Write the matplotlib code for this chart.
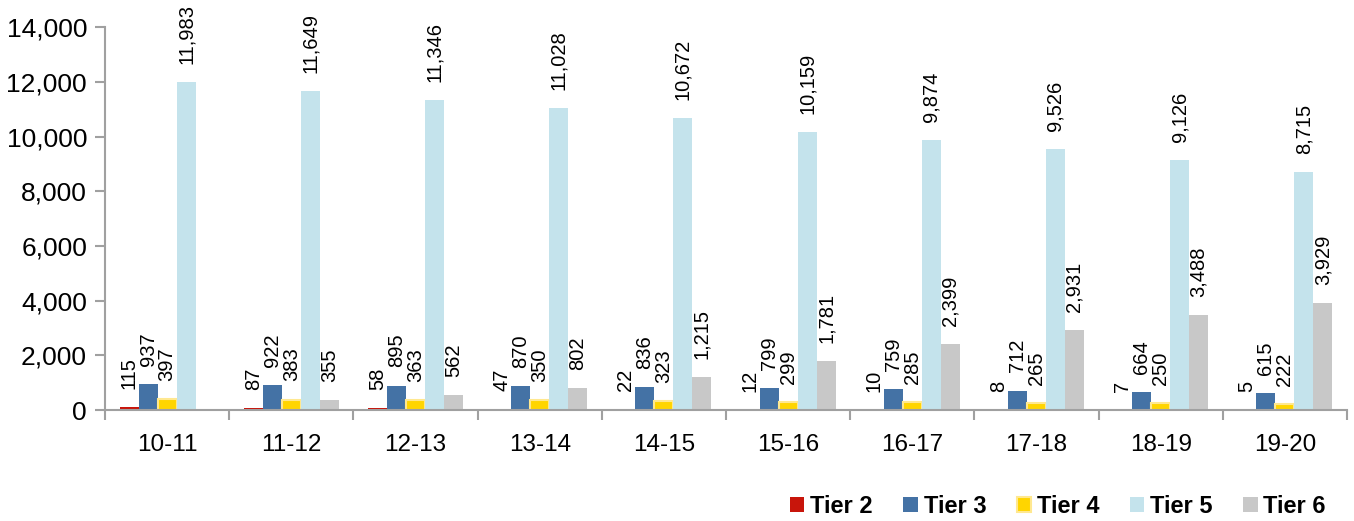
import numpy as np
import matplotlib.pyplot as plt
from matplotlib.ticker import FuncFormatter, FixedLocator

plt.rcParams['font.family'] = ['Liberation Sans', 'DejaVu Sans']

years = ['10-11', '11-12', '12-13', '13-14', '14-15',
         '15-16', '16-17', '17-18', '18-19', '19-20']
tier2 = [115, 87, 58, 47, 22, 12, 10, 8, 7, 5]
tier3 = [937, 922, 895, 870, 836, 799, 759, 712, 664, 615]
tier4 = [397, 383, 363, 350, 323, 299, 285, 265, 250, 222]
tier5 = [11983, 11649, 11346, 11028, 10672, 10159, 9874, 9526, 9126, 8715]
tier6 = [np.nan, 355, 562, 802, 1215, 1781, 2399, 2931, 3488, 3929]

series = [('Tier 2', tier2, '#C8150B', '#C8150B'),
          ('Tier 3', tier3, '#4472A5', '#4472A5'),
          ('Tier 4', tier4, '#FFD500', '#FFE890'),
          ('Tier 5', tier5, '#C4E3EC', '#C4E3EC'),
          ('Tier 6', tier6, '#C8C8C8', '#C8C8C8')]

fig = plt.figure(figsize=(13.54, 5.21), dpi=100)
ax = fig.add_axes([0.0776, 0.213, 0.9172, 0.735])

x = np.arange(len(years))
w = 0.153
for i, (name, vals, col, edge) in enumerate(series):
    pos = x + (i - 2) * w
    ax.bar(pos, vals, width=w, color=col, edgecolor=edge, linewidth=1.5 if name == 'Tier 4' else 0, label=name)
    for p, v in zip(pos, vals):
        if np.isnan(v):
            continue
        ax.annotate(f'{v:,.0f}', (p, v), xytext=(0, 13), textcoords='offset points',
                    rotation=90, ha='center', va='bottom', fontsize=14.5)

ax.set_xlim(-0.5, len(years) - 0.5)
ax.set_ylim(0, 14000)
ax.set_yticks(range(0, 14001, 2000))
ax.yaxis.set_major_formatter(FuncFormatter(lambda v, _: f'{v:,.0f}'))
ax.set_xticks(x)
ax.set_xticklabels(years)
ax.xaxis.set_minor_locator(FixedLocator(np.arange(-0.5, len(years), 1)))
ax.tick_params(axis='x', which='major', length=0, labelsize=17.5, pad=17)
ax.tick_params(axis='x', which='minor', length=7, width=1.5, color='#A0A0A0')
ax.tick_params(axis='y', length=7, width=1.5, color='#A0A0A0', labelsize=19, pad=6)

for s in ['top', 'right']:
    ax.spines[s].set_visible(False)
for s in ['left', 'bottom']:
    ax.spines[s].set_color('#A0A0A0')
    ax.spines[s].set_linewidth(1.5)

fig.legend(loc='lower right', bbox_to_anchor=(0.995, -0.035), ncol=5, frameon=False,
           prop={'weight': 'bold', 'size': 17}, handlelength=0.6, handleheight=0.6,
           handletextpad=0.25, columnspacing=1.3)

fig.savefig('out.png', dpi=100)
